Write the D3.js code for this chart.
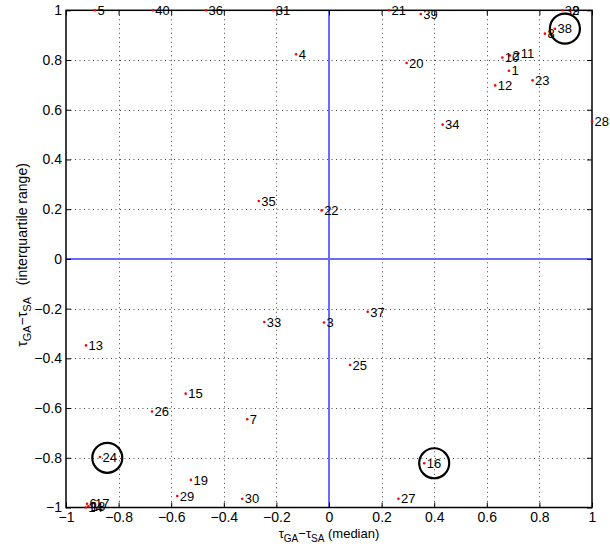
<!DOCTYPE html>
<html>
<head>
<meta charset="utf-8">
<script src="https://cdn.jsdelivr.net/npm/d3@7"></script>
<style>
  body { margin: 0; background: #fff; }
  text { font-family: "Liberation Sans", Arial, sans-serif; fill: #000; }
</style>
</head>
<body>
<svg width="610" height="552"></svg>
<script>
// point ids
const labels = ["1","2","3","4","5","6","7","8","9","10",
                "11","12","13","14","15","16","17","18","19","20",
                "21","22","23","24","25","26","27","28","29","30",
                "31","32","33","34","35","36","37","38","39","40"];
// tau_GA - tau_SA (median)
const xMedian = [0.684, 0.688, -0.019, -0.125, -0.89, -0.92, -0.311, 0.821, 0.916, 0.659,
                 0.72, 0.632, -0.924, -0.925, -0.545, 0.362, -0.899, -0.915, -0.525, 0.295,
                 0.228, -0.028, 0.774, -0.871, 0.08, -0.673, 0.264, 1.0, -0.577, -0.33,
                 -0.212, 0.887, -0.246, 0.432, -0.267, -0.468, 0.147, 0.859, 0.349, -0.67];
// tau_GA - tau_SA (interquartile range)
const yIqr = [0.757, 0.818, -0.256, 0.823, 1.0, -0.985, -0.645, 0.906, 1.0, 0.81,
              0.826, 0.698, -0.348, -1.0, -0.542, -0.822, -0.982, -0.995, -0.889, 0.788,
              1.0, 0.195, 0.718, -0.797, -0.427, -0.614, -0.965, 0.553, -0.954, -0.965,
              1.0, 1.0, -0.254, 0.54, 0.233, 1.0, -0.213, 0.926, 0.985, 1.0];
// highlighted rings (data units)
const ringX = [0.897, -0.843, 0.40];
const ringY = [0.926, -0.80, -0.822];
const tickVals = [-1, -0.8, -0.6, -0.4, -0.2, 0, 0.2, 0.4, 0.6, 0.8, 1];

const svg = d3.select("svg");
const x = d3.scaleLinear().domain([-1, 1]).range([66, 592]);
const y = d3.scaleLinear().domain([-1, 1]).range([507.5, 10.3]);
const fmt = v => v === 0 ? "0" : (v < 0 ? "\u2212" : "") + String(Math.abs(v));

// grid
const grid = svg.append("g").attr("stroke", "#444").attr("stroke-width", 1)
    .attr("stroke-dasharray", "1,3.5");
grid.selectAll(".gx").data(tickVals.slice(1, -1)).enter().append("line")
    .attr("x1", d => Math.round(x(d)) + 0.5).attr("x2", d => Math.round(x(d)) + 0.5)
    .attr("y1", y(1)).attr("y2", y(-1));
grid.selectAll(".gy").data(tickVals.slice(1, -1)).enter().append("line")
    .attr("y1", d => Math.round(y(d)) + 0.5).attr("y2", d => Math.round(y(d)) + 0.5)
    .attr("x1", x(-1)).attr("x2", x(1));

// zero lines
svg.append("line").attr("x1", x(0)).attr("x2", x(0)).attr("y1", y(1)).attr("y2", y(-1))
    .attr("stroke", "#6b6bff").attr("stroke-width", 2);
svg.append("line").attr("x1", x(-1)).attr("x2", x(1)).attr("y1", y(0)).attr("y2", y(0))
    .attr("stroke", "#6b6bff").attr("stroke-width", 2);

// axes, ticks pointing inward
function styleAxis(g) {
    g.select(".domain").remove();
    g.selectAll("line").attr("stroke", "#000");
    g.selectAll("text").attr("font-size", 14).attr("font-family", "Liberation Sans, Arial, sans-serif");
}
svg.append("g").attr("transform", `translate(0,${y(-1)})`)
    .call(d3.axisBottom(x).tickValues(tickVals).tickFormat(fmt).tickSize(-5).tickPadding(5))
    .call(styleAxis);
svg.append("g").attr("transform", `translate(${x(-1)},0)`)
    .call(d3.axisLeft(y).tickValues(tickVals).tickFormat(fmt).tickSize(-5).tickPadding(4))
    .call(styleAxis);
svg.append("g").attr("transform", `translate(0,${y(1)})`)
    .call(d3.axisTop(x).tickValues(tickVals).tickFormat("").tickSize(-5))
    .call(styleAxis);
svg.append("g").attr("transform", `translate(${x(1)},0)`)
    .call(d3.axisRight(y).tickValues(tickVals).tickFormat("").tickSize(-5))
    .call(styleAxis);

// frame
svg.append("rect").attr("x", x(-1)).attr("y", y(1))
    .attr("width", x(1) - x(-1)).attr("height", y(-1) - y(1))
    .attr("fill", "none").attr("stroke", "#000").attr("stroke-width", 1.5);

// points
const pts = labels.map((l, i) => ({ label: l, x: xMedian[i], y: yIqr[i] }));
const pg = svg.append("g");
pg.selectAll("circle").data(pts).enter().append("circle")
    .attr("cx", d => x(d.x)).attr("cy", d => y(d.y)).attr("r", 1.3).attr("fill", "#f00");
pg.selectAll("text").data(pts).enter().append("text")
    .attr("x", d => x(d.x) + 2.5).attr("y", d => y(d.y)).attr("dy", "0.36em")
    .attr("font-size", 13).text(d => d.label);

// rings
svg.append("g").selectAll("circle").data(ringX).enter().append("circle")
    .attr("cx", d => x(d)).attr("cy", (d, i) => y(ringY[i])).attr("r", 15)
    .attr("fill", "none").attr("stroke", "#000").attr("stroke-width", 2.2);

// axis labels
const xl = svg.append("text").attr("x", 329).attr("y", 538).attr("text-anchor", "middle").attr("font-size", 13);
xl.append("tspan").text("\u03c4");
xl.append("tspan").attr("dy", 4).attr("font-size", 10).text("GA");
xl.append("tspan").attr("dy", -4).text("\u2212\u03c4");
xl.append("tspan").attr("dy", 4).attr("font-size", 10).text("SA");
xl.append("tspan").attr("dy", -4).text(" (median)");

const yl = svg.append("text").attr("transform", "translate(27,255) rotate(-90)")
    .attr("text-anchor", "middle").attr("font-size", 14);
yl.append("tspan").text("\u03c4");
yl.append("tspan").attr("dy", 4).attr("font-size", 11).text("GA");
yl.append("tspan").attr("dy", -4).text("\u2212\u03c4");
yl.append("tspan").attr("dy", 4).attr("font-size", 11).text("SA");
yl.append("tspan").attr("dy", -4).text("\u00a0\u00a0\u00a0(interquartile range)");
</script>
</body>
</html>
